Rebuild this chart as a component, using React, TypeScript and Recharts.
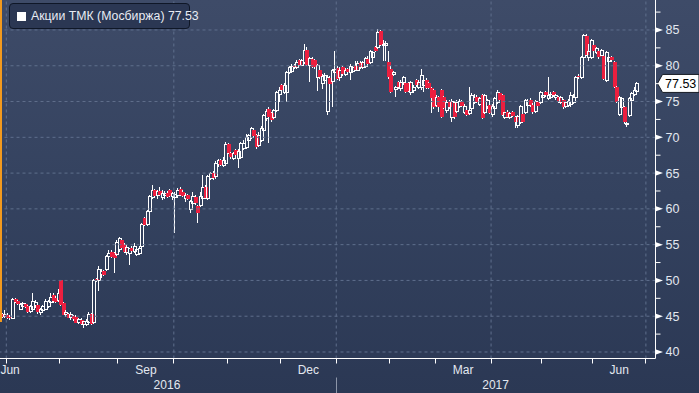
import React from "react";
import { ComposedChart, Bar, XAxis, YAxis, ReferenceLine } from "recharts";

// daily candles [open, high, low, close]
const JUN_SEP_2016 = [
  [45.3,45.5,44.8,44.9],[44.9,45.9,44.7,45.3],[45.2,45.4,44.6,44.8],[44.9,45.1,44.5,44.7],[44.7,47.6,44.6,47.3],
  [47.4,47.6,46.9,47.0],[47.1,47.3,46.5,46.7],[46.0,46.9,45.8,46.7],[46.3,47.0,46.0,46.8],[46.7,46.9,46.1,46.3],
  [46.4,46.6,45.4,45.6],[45.7,46.6,45.4,46.3],[46.0,48.3,45.8,47.0],[46.5,47.2,46.2,46.9],[46.5,46.7,45.3,45.6],
  [45.5,46.1,45.2,45.9],[45.8,46.6,45.5,46.3],[46.0,47.4,45.8,47.1],[46.4,47.3,46.1,47.0],[46.9,48.3,46.6,47.6],
  [48.0,48.2,46.9,47.1],[47.6,47.8,46.8,47.0],[47.2,48.8,47.0,48.2],[50.0,50.1,46.4,46.5],[46.9,47.0,45.1,45.2],
  [45.3,45.9,44.9,45.5],[45.3,45.5,44.7,44.8],[44.8,45.6,44.5,45.2],[45.0,45.2,44.4,44.6],[44.9,45.1,44.0,44.1],
  [44.1,44.8,43.9,44.6],[44.5,44.7,43.8,43.9],[43.8,44.4,43.4,44.2],[43.9,44.6,43.6,44.3],[44.1,45.6,43.9,45.3],
  [45.3,45.5,43.8,43.9],[44.1,50.2,43.9,50.0],[50.2,50.4,49.8,49.9],[50.0,52.0,48.5,51.5],[50.8,51.6,50.4,51.3],
  [51.3,51.5,50.6,50.8],[51.5,53.6,51.3,53.3],[53.3,54.2,53.0,53.8],[54.0,54.2,53.2,53.3],[53.8,54.0,51.0,53.2],
  [53.6,55.6,53.4,55.3],[54.3,56.1,54.0,55.9],[55.6,55.8,54.5,54.6],[55.0,55.2,53.8,54.0],[53.9,54.9,53.6,54.6],
  [53.8,54.6,52.2,54.4],[54.6,54.8,53.9,54.1],[54.0,55.2,53.8,54.7],[53.6,54.6,53.4,54.3],[53.7,54.8,53.5,54.5],
  [54.7,58.0,54.5,57.8],[58.7,58.9,57.6,57.8],[57.8,59.9,57.6,59.6],[59.6,62.0,59.4,61.7],[61.6,63.3,61.4,62.6],
  [62.6,62.8,61.6,61.8],[61.8,62.7,61.4,62.4],[62.5,63.0,61.8,62.0],[61.6,62.6,61.2,62.2],[61.8,62.5,61.4,62.1],
  [62.2,62.5,61.5,61.7],[62.6,62.8,61.6,61.8],[61.7,62.4,61.3,62.2],
];
const OCT_DEC_2016 = [
  [61.6,62.4,56.6,62.0],[61.8,62.9,61.5,62.5],[62.8,63.1,61.8,62.0],[62.4,62.6,61.6,61.8],[61.4,62.2,61.0,61.9],
  [61.9,62.1,61.2,61.4],[59.9,61.2,59.4,61.0],[60.8,62.4,60.6,61.7],[61.7,61.9,60.6,60.8],[60.4,60.6,58.0,59.4],
  [60.5,62.4,60.3,61.7],[61.5,64.7,61.3,63.0],[63.0,63.3,61.4,61.5],[61.5,64.8,61.2,64.5],[64.3,65.2,64.0,64.9],
  [65.0,65.3,64.1,64.3],[64.5,66.7,64.2,66.4],[66.2,67.0,65.8,66.7],[66.8,67.0,66.0,66.2],[66.1,67.2,65.9,66.8],
  [66.4,69.3,66.2,69.0],[69.0,69.2,67.6,67.8],[67.8,68.0,67.0,67.2],[67.1,67.9,66.8,67.7],[68.2,68.4,67.3,67.5],
  [67.1,68.3,65.7,68.0],[67.2,69.4,67.0,69.2],[68.4,69.6,68.2,69.1],[68.6,70.4,68.4,70.0],[69.6,70.5,69.2,70.2],
  [70.0,71.5,69.8,71.2],[71.0,71.3,70.0,70.2],[70.3,70.5,68.4,68.6],[68.9,70.8,68.6,70.3],[69.6,71.6,69.4,71.3],
  [71.0,73.3,70.8,73.1],[72.6,74.0,72.3,73.6],[74.0,74.2,69.2,72.8],[73.4,73.6,72.2,72.4],[72.8,74.0,72.6,73.8],
  [73.8,76.5,73.6,76.3],[76.0,77.0,75.0,76.6],[77.3,77.5,76.4,76.6],[76.2,77.6,76.0,77.3],[76.3,79.3,74.9,79.1],
  [79.0,80.0,78.8,79.8],[79.2,80.2,79.0,79.9],[80.0,80.3,79.6,79.8],[79.8,80.8,79.6,80.5],[80.8,81.0,80.0,80.1],
  [80.1,81.0,79.9,80.7],[80.5,83.0,80.3,82.2],[82.2,82.6,80.0,80.1],[80.0,81.2,77.7,81.0],[81.0,81.2,79.7,79.8],
  [80.8,81.0,79.6,79.8],[78.4,80.2,76.5,80.0],[79.4,79.6,78.2,78.4],[77.5,78.8,76.8,78.5],[78.0,79.0,77.4,78.6],
  [73.6,78.7,73.1,78.4],[78.3,78.5,77.2,77.4],[77.8,79.6,74.3,79.4],[79.0,82.0,78.8,79.5],
];
const JAN_MAR_2017 = [
  [79.7,80.0,78.0,78.2],[78.3,79.8,77.9,79.3],[79.8,80.0,78.6,78.8],[78.8,79.7,78.5,79.4],[79.5,79.7,78.9,79.1],
  [79.1,80.2,78.0,79.9],[79.2,80.0,79.0,79.8],[80.0,80.6,79.2,79.4],[79.4,80.6,79.2,80.3],[80.4,80.6,79.6,79.8],
  [79.8,80.7,79.6,80.5],[79.9,81.2,79.7,81.0],[81.0,81.3,80.0,80.2],[80.4,82.2,80.2,82.0],[81.2,82.0,81.0,81.8],
  [82.6,82.8,81.9,82.0],[82.6,85.1,82.4,84.6],[84.8,85.0,82.8,82.9],[82.9,83.6,80.6,83.0],[82.8,83.4,80.6,83.1],
  [80.5,82.0,78.2,78.4],[79.6,80.0,76.2,76.4],[78.8,79.3,78.5,79.0],[76.7,77.2,75.6,77.0],[77.7,77.9,76.8,77.0],
  [76.8,78.0,76.5,77.6],[77.6,78.5,77.3,78.3],[77.6,77.8,76.2,76.4],[77.6,77.8,76.3,76.5],[76.3,77.9,75.9,77.7],
  [76.5,77.3,76.2,77.0],[78.0,78.2,77.1,77.3],[77.0,78.0,76.7,77.6],[76.9,79.6,76.6,78.7],[77.2,78.5,76.4,78.0],
  [78.0,78.3,76.8,76.9],[77.6,77.8,76.8,76.9],[76.9,77.1,73.4,75.5],[76.6,76.8,74.0,74.2],[74.4,75.9,74.2,75.6],
  [75.6,75.8,73.6,74.2],[76.6,76.8,72.7,72.8],[75.6,75.8,74.0,74.1],[73.8,75.2,73.4,74.9],[75.0,75.2,74.0,74.2],
  [72.8,75.3,72.1,75.0],[74.8,75.1,72.6,72.8],[73.6,75.2,73.4,74.8],[74.3,75.4,74.1,75.0],[75.0,75.2,74.2,74.4],
  [73.5,74.6,73.2,74.3],[73.8,74.0,73.0,73.1],[73.3,77.0,73.1,73.8],[74.0,76.2,73.7,75.9],[74.8,76.0,74.6,75.6],
  [75.6,75.9,74.8,75.0],[74.6,75.6,74.4,75.4],[75.9,76.1,72.6,72.7],[73.4,76.0,73.2,75.9],[74.3,75.4,74.0,75.2],
  [74.5,74.8,73.3,73.4],
];
const APR_JUN_2017 = [
  [73.2,74.6,72.9,74.3],[74.0,75.6,73.8,75.4],[74.8,76.6,74.6,76.2],[76.2,76.4,75.0,75.2],[75.9,76.1,73.0,73.1],
  [72.8,73.6,72.6,73.4],[73.6,73.8,72.7,72.9],[72.8,73.5,72.6,73.3],[73.5,73.7,72.9,73.0],[72.8,73.0,71.3,72.1],
  [71.7,73.1,71.3,72.9],[72.1,74.5,71.9,74.3],[73.2,73.4,72.0,72.1],[73.4,75.4,73.2,75.2],[74.4,75.4,74.2,75.0],
  [75.2,75.5,74.3,74.5],[74.5,74.8,73.3,73.5],[73.6,75.2,73.4,75.0],[74.9,75.1,74.3,74.4],[74.9,76.5,74.7,76.3],
  [75.5,76.2,75.2,75.9],[76.3,76.5,75.6,75.9],[75.4,78.4,75.2,75.9],[75.6,76.3,75.3,76.0],[76.3,76.5,75.7,75.9],
  [75.5,76.0,75.2,75.8],[75.6,75.8,74.8,74.9],[74.9,75.8,74.6,75.5],[75.2,75.4,74.0,74.2],[74.3,75.0,74.1,74.8],
  [74.5,75.3,74.2,75.0],[74.6,76.4,74.3,75.9],[74.9,76.0,74.6,75.6],[75.6,78.5,75.4,78.3],[78.6,78.8,78.2,78.4],
  [78.4,81.4,78.2,81.2],[81.2,84.4,81.0,84.2],[84.2,84.4,81.4,81.5],[81.2,83.0,80.6,82.0],[81.2,83.8,81.0,83.6],
  [82.9,83.2,81.9,82.1],[81.8,82.6,81.6,82.4],[82.0,82.3,81.0,81.2],[81.5,82.4,81.3,82.1],[81.3,81.5,78.0,78.2],
  [78.0,82.0,77.7,81.8],[80.6,81.4,80.4,81.2],[81.2,81.4,80.5,80.8],[80.5,80.7,76.9,77.0],[77.0,77.2,74.8,75.0],
  [73.2,75.8,73.0,75.6],[74.2,75.6,73.9,75.4],[74.2,74.4,71.9,72.1],[71.8,72.2,71.4,72.0],[73.1,75.6,72.9,75.4],
  [75.2,76.3,75.0,76.1],[76.0,77.0,75.8,76.6],[76.4,77.8,76.2,77.53],
];

const LAST_PRICE = 77.53;
const LEGEND = "Акции ТМК (Мосбиржа)";

const PRICE_TICKS = [40, 42.5, 45, 47.5, 50, 52.5, 55, 57.5, 60, 62.5, 65, 67.5, 70, 72.5, 75, 77.5, 80, 82.5, 85, 87.5];
const PRICE_GRID = [40, 45, 50, 55, 60, 65, 70, 75, 80, 85];

// positions on the trading-day index
const MONTH_STARTS = [1.5, 22.5, 45.5, 67.5, 88.5, 109.5, 131.5, 152.5, 170.5, 192.5, 212.5, 232.5, 253.5];
const QUARTER_STARTS = [1.5, 67.5, 131.5, 192.5, 253.5];
const MONTH_LABELS = ["Jun", "Sep", "Dec", "Mar", "Jun"];
const MONTH_LABEL_AT = [3, 56.5, 120.5, 181.5, 243];
const YEAR_LABELS = ["2016", "2017"];
const YEAR_LABEL_AT = [64.8, 194.3];
const YEAR_SPLIT = 131.5;

const data = [...JUN_SEP_2016, ...OCT_DEC_2016, ...JAN_MAR_2017, ...APR_JUN_2017].map(([o, h, l, c], i) => ({
  i, o, h, l, c, range: [l, h],
}));

const FONT = '"Liberation Sans", Arial, sans-serif';
const TEXT = "#e3e8f0";
const GRID = "#5f6f8c";
const RED = "#ec1f3f";

function Candle(props: any) {
  const { x, y, width, height, payload } = props;
  const { o, h, l, c } = payload;
  const top = Math.min(y, y + height);
  const bot = Math.max(y, y + height);
  const k = h > l ? (bot - top) / (h - l) : 0;
  const py = (v: number) => top + (h - v) * k;
  const n = Math.round(x + width / 2 - 0.5);
  const wx = n + 0.5;
  const bt = py(Math.max(o, c));
  const bb = Math.max(py(Math.min(o, c)), bt + 1);
  const up = c >= o;
  return (
    <g shapeRendering="crispEdges">
      <line x1={wx} x2={wx} y1={top} y2={bt} stroke="#fff" />
      <line x1={wx} x2={wx} y1={bb} y2={bot} stroke="#fff" />
      {up ? (
        <rect x={n - 0.5} y={bt} width={3} height={bb - bt} fill="none" stroke="#fff" />
      ) : (
        <rect x={n - 1} y={bt} width={4} height={bb - bt} fill={RED} />
      )}
    </g>
  );
}

function XTick(props: any) {
  const { x, y, payload } = props;
  const v = payload.value;
  const cx = Math.round(x - 0.5) + 0.5;
  const m = MONTH_LABEL_AT.indexOf(v);
  const yr = YEAR_LABEL_AT.indexOf(v);
  return (
    <g>
      {MONTH_STARTS.includes(v) && <line x1={cx} x2={cx} y1={y} y2={y + 5} stroke="#fff" />}
      {v === YEAR_SPLIT && <line x1={cx} x2={cx} y1={y + 19} y2={y + 36} stroke="#8c95a8" />}
      {m >= 0 && (
        <text x={x} y={y + 15} textAnchor="middle" fontSize={12} fontFamily={FONT} fill={TEXT}>
          {MONTH_LABELS[m]}
        </text>
      )}
      {yr >= 0 && (
        <text x={x} y={y + 30} textAnchor="middle" fontSize={12} fontFamily={FONT} fill={TEXT}>
          {YEAR_LABELS[yr]}
        </text>
      )}
    </g>
  );
}

function YTick(props: any) {
  const { x, y, payload } = props;
  const v = payload.value;
  const major = Math.abs(v % 5) < 1e-6;
  if (!major) return <line x1={x} x2={x + 5} y1={y} y2={y} stroke="#fff" />;
  return (
    <g>
      <polygon points={`${x + 0.5},${y - 2.5} ${x + 7.5},${y} ${x + 0.5},${y + 2.5}`} fill="#fff" />
      <text x={x + 10} y={y + 4.5} fontSize={12.5} fontFamily={FONT} fill={TEXT}>
        {v}
      </text>
    </g>
  );
}

function LastTag(props: any) {
  const { viewBox } = props;
  const x0 = viewBox.x + viewBox.width;
  const y = viewBox.y;
  return (
    <g>
      <polygon
        points={`${x0 + 2},${y} ${x0 + 7},${y - 9} ${699},${y - 9} ${699},${y + 9} ${x0 + 7},${y + 9}`}
        fill="#fff"
        stroke="#161b24"
      />
      <text x={x0 + 9.5} y={y + 4.5} fontSize={12.5} fontFamily={FONT} fill="#000">
        {LAST_PRICE.toFixed(2)}
      </text>
    </g>
  );
}

export default function App() {
  const xTicks = [...MONTH_STARTS, ...MONTH_LABEL_AT, ...YEAR_LABEL_AT];
  return (
    <div
      style={{
        position: "absolute",
        left: 0,
        top: 0,
        width: 699,
        height: 393,
        overflow: "hidden",
        background: "linear-gradient(to bottom, #3e4b68 0%, #34425f 50%, #2b3854 100%)",
      }}
    >
      <ComposedChart width={699} height={393} data={data} margin={{ top: 0, right: 0, bottom: 0, left: 0 }}>
        <XAxis
          dataKey="i"
          type="number"
          domain={[-0.985, 257.29]}
          allowDataOverflow
          ticks={xTicks}
          interval={0}
          tick={<XTick />}
          tickLine={false}
          tickSize={0}
          tickMargin={0}
          height={34.5}
          axisLine={{ stroke: "#fff" }}
        />
        <YAxis
          orientation="right"
          type="number"
          domain={[39.09, 89.19]}
          allowDataOverflow
          ticks={PRICE_TICKS}
          interval={0}
          tick={<YTick />}
          tickLine={false}
          tickSize={0}
          tickMargin={0}
          width={43.5}
          axisLine={{ stroke: "#fff" }}
        />
        {PRICE_GRID.map((v) => (
          <ReferenceLine key={"h" + v} y={v} stroke={GRID} strokeDasharray="3 3" />
        ))}
        {QUARTER_STARTS.map((v) => (
          <ReferenceLine key={"v" + v} x={v} stroke={GRID} strokeDasharray="3 3" />
        ))}
        <Bar dataKey="range" barSize={3} shape={(p: any) => <Candle {...p} />} isAnimationActive={false} />
        <ReferenceLine y={LAST_PRICE} stroke="none" ifOverflow="visible" label={<LastTag />} />
      </ComposedChart>
      <div style={{ position: "absolute", left: 0, top: 0, width: 2, height: 322, background: "#f39a1e" }} />
      <div
        style={{
          position: "absolute",
          left: 9,
          top: 3,
          width: 181,
          height: 26,
          boxSizing: "border-box",
          background: "#2b3753",
          border: "1px solid #0f1727",
          borderRadius: 4,
          display: "flex",
          alignItems: "center",
          fontFamily: FONT,
          fontSize: 12.3,
          color: "#e8ecf4",
          whiteSpace: "nowrap",
        }}
      >
        <div style={{ width: 9, height: 9, background: "#fff", marginLeft: 7, flexShrink: 0 }} />
        <span style={{ marginLeft: 5 }}>
          {LEGEND} {LAST_PRICE.toFixed(2)}
        </span>
      </div>
    </div>
  );
}
